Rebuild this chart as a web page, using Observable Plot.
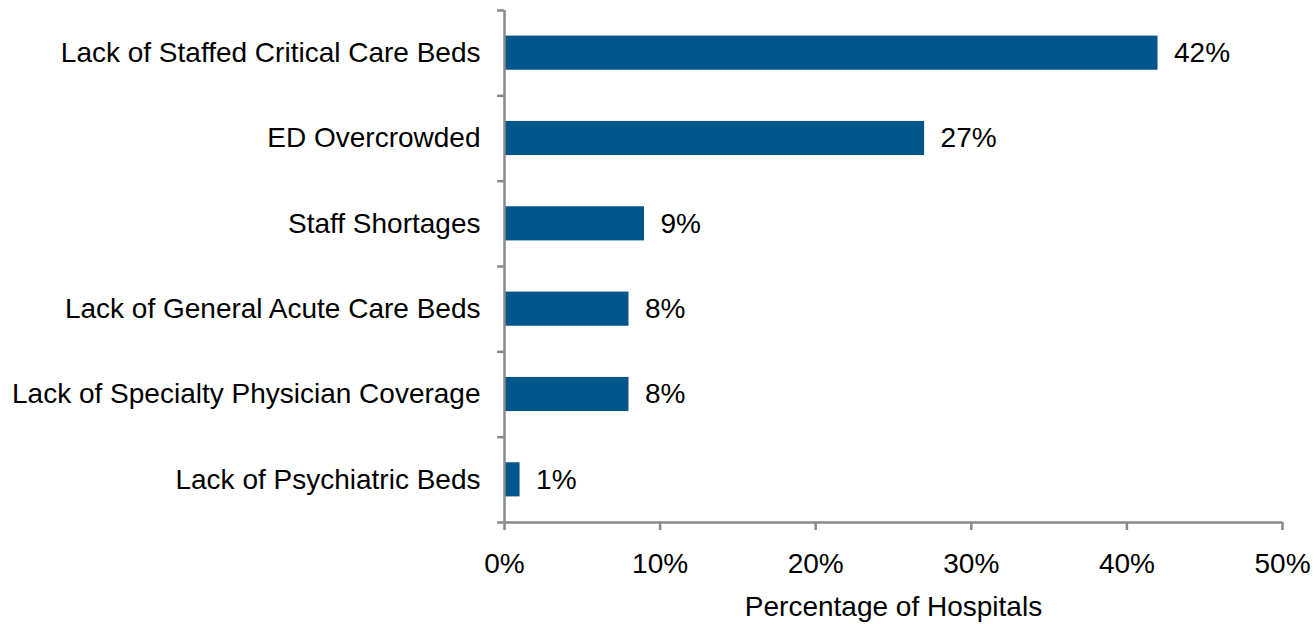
<!DOCTYPE html>
<html>
<head>
<meta charset="utf-8">
<script src="https://cdn.jsdelivr.net/npm/d3@7"></script>
<script src="https://cdn.jsdelivr.net/npm/@observablehq/plot@0.6"></script>
<style>
  html, body { margin: 0; padding: 0; background: #fff; }
</style>
</head>
<body>
<div id="chart"></div>
<script>
const categories = [
  "Lack of Staffed Critical Care Beds",
  "ED Overcrowded",
  "Staff Shortages",
  "Lack of General Acute Care Beds",
  "Lack of Specialty Physician Coverage",
  "Lack of Psychiatric Beds"
];
const values = [42, 27, 9, 8, 8, 1];
const xTicks = [0, 10, 20, 30, 40, 50];
const xLabel = "Percentage of Hospitals";

const rows = categories.map((c, i) => ({category: c, value: values[i], idx: i}));
const boundaries = d3.range(categories.length + 1);
const centers = categories.map((c, i) => i + 0.5);

const axisColor = "#8a8a8a";
const fs = 28;

const chart = Plot.plot({
  width: 1315,
  height: 624,
  marginLeft: 504,
  marginRight: 33,
  marginTop: 10,
  marginBottom: 102,
  style: {fontFamily: "'Liberation Sans', Arial, sans-serif", fontSize: fs + "px", color: "#000", background: "#fff"},
  x: {domain: [0, 50]},
  y: {domain: [0, categories.length], reverse: true},
  marks: [
    Plot.rectX(rows, {x: "value", y1: d => d.idx + 0.3, y2: d => d.idx + 0.7, fill: "#03568b"}),
    Plot.text(rows, {x: "value", y: d => d.idx + 0.5, text: d => d.value + "%", textAnchor: "start", dx: 16, fill: "#000", fontSize: fs}),
    Plot.ruleX([0], {stroke: axisColor, strokeWidth: 2.5}),
    Plot.ruleY([categories.length], {stroke: axisColor, strokeWidth: 2.5}),
    Plot.axisY({ticks: boundaries, tickFormat: () => "", tickSize: 7, stroke: axisColor, strokeWidth: 2.5, label: null}),
    Plot.axisY({ticks: centers, tickFormat: d => categories[Math.floor(d)], tickSize: 0, tickPadding: 24, label: null, fill: "#000", fontSize: fs}),
    Plot.axisX({ticks: xTicks, tickFormat: d => d + "%", tickSize: 8, tickPadding: 23, stroke: axisColor, strokeWidth: 2.5, fill: "#000", fontSize: fs,
      label: xLabel, labelAnchor: "center", labelArrow: "none", labelOffset: 93})
  ]
});
document.getElementById("chart").appendChild(chart);
</script>
</body>
</html>
